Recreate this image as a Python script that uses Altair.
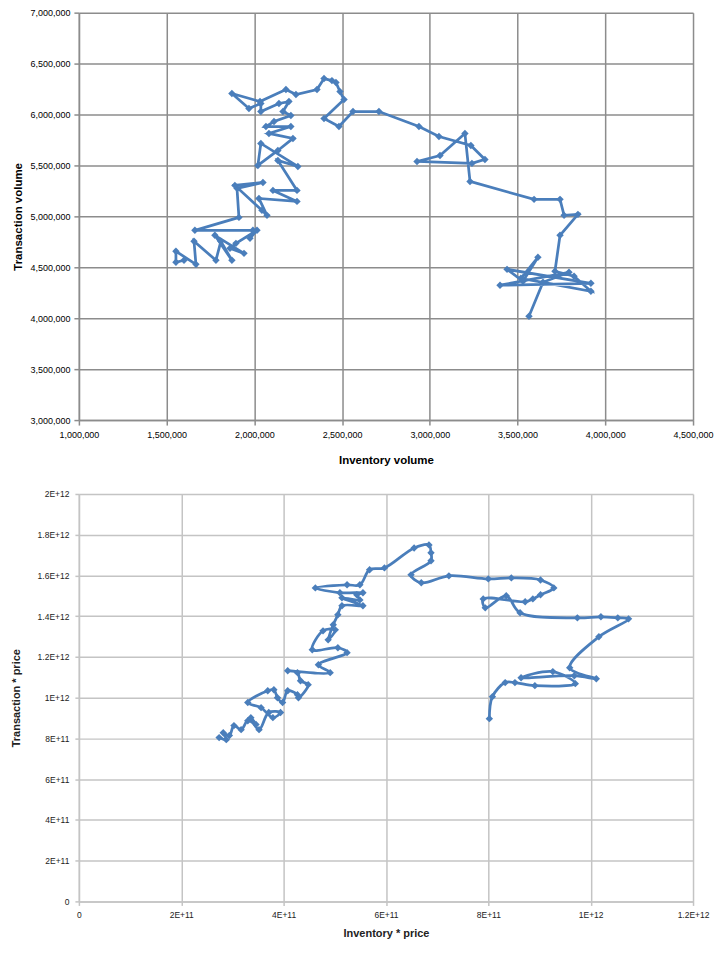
import altair as alt
import pandas as pd

BLUE = "#4a7ebb"

# ---- Top chart: Inventory volume (x) vs Transaction volume (y), in thousands ----
inv_vol_k = [1599, 1553, 1553, 1667, 1656, 1781, 1809, 1872, 1775, 1941,
             1861, 1895, 2015, 1975, 1992, 1661, 1912, 1901, 2049, 1889,
             2043, 2072, 2026, 2243, 2106, 2243, 2134, 2248, 2037, 2020,
             2134, 2220, 2083, 2208, 2066, 2112, 2208, 2163, 2197, 2140,
             2037, 2037, 1969, 1872, 2032, 2180, 2237, 2357, 2397, 2442,
             2465, 2488, 2511, 2397, 2482, 2562, 2710, 2938, 3052, 3234,
             3314, 3240, 2927, 3058, 3200, 3229, 3594, 3742, 3765, 3844,
             3742, 3713, 3822, 3918, 3519, 3616, 3531, 3440, 3918, 3400,
             3793, 3645, 3565]
trans_vol_k = [4569, 4549, 4657, 4529, 4755, 4569, 4755, 4569, 4814, 4637,
               4686, 4735, 4863, 4784, 4863, 4863, 4990, 5275, 5333, 5304,
               5059, 5010, 5176, 5147, 5255, 5255, 5549, 5490, 5716, 5500,
               5647, 5765, 5814, 5882, 5882, 5931, 5990, 6029, 6127, 6108,
               6029, 6108, 6059, 6206, 6127, 6245, 6196, 6245, 6353, 6333,
               6314, 6225, 6147, 5961, 5882, 6029, 6029, 5882, 5784, 5696,
               5559, 5520, 5539, 5598, 5814, 5343, 5167, 5167, 5010, 5020,
               4814, 4461, 4412, 4265, 4392, 4598, 4363, 4480, 4343, 4324,
               4451, 4353, 4020]

# ---- Bottom chart: Inventory * price (x) vs Transaction * price (y), in billions ----
inv_price_b = [274, 288, 282, 294, 303, 317, 330, 346, 336, 352,
               371, 394, 379, 356, 330, 369, 381, 388, 398, 408,
               427, 429, 448, 433, 427, 408, 491, 468, 524, 506,
               456, 477, 501, 487, 497, 506, 514, 555, 514, 549,
               543, 555, 510, 462, 524, 549, 568, 597, 655, 684,
               688, 688, 649, 669, 723, 800, 845, 902, 928, 902,
               887, 872, 790, 794, 835, 862, 974, 1020, 1053, 1074,
               1016, 959, 1011, 968, 864, 926, 970, 891, 852, 833,
               808, 802]
trans_price_b = [804, 794, 828, 814, 863, 843, 887, 868, 902, 843,
                 927, 927, 902, 951, 976, 1034, 1039, 1000, 976, 1034,
                 1015, 1000, 1064, 1083, 1123, 1132, 1123, 1162, 1221, 1245,
                 1235, 1328, 1333, 1284, 1358, 1407, 1451, 1451, 1490, 1480,
                 1505, 1515, 1515, 1539, 1554, 1554, 1628, 1637, 1735, 1750,
                 1711, 1672, 1603, 1564, 1598, 1583, 1588, 1578, 1539, 1505,
                 1485, 1471, 1485, 1441, 1500, 1417, 1392, 1397, 1392, 1387,
                 1299, 1147, 1093, 1108, 1098, 1128, 1069, 1059, 1074, 1074,
                 1005, 897]

# ---- Tick values / labels ----
top_x_ticks = [1000000, 1500000, 2000000, 2500000, 3000000, 3500000, 4000000, 4500000]
top_y_ticks = [3000000, 3500000, 4000000, 4500000, 5000000, 5500000, 6000000, 6500000, 7000000]
bot_x_ticks = [0, 2e11, 4e11, 6e11, 8e11, 1e12, 1.2e12]
bot_x_labels = ["0", "2E+11", "4E+11", "6E+11", "8E+11", "1E+12", "1.2E+12"]
bot_y_ticks = [0, 2e11, 4e11, 6e11, 8e11, 1e12, 1.2e12, 1.4e12, 1.6e12, 1.8e12, 2e12]
bot_y_labels = ["0", "2E+11", "4E+11", "6E+11", "8E+11", "1E+12", "1.2E+12",
                "1.4E+12", "1.6E+12", "1.8E+12", "2E+12"]


def label_expr(values, labels):
    expr = "''"
    for v, lab in reversed(list(zip(values, labels))):
        expr = f"abs(datum.value - {v!r}) < 1e6 ? '{lab}' : ({expr})"
    return expr


top_df = pd.DataFrame({
    "i": list(range(len(inv_vol_k))),
    "x": [v * 1000 for v in inv_vol_k],
    "y": [v * 1000 for v in trans_vol_k],
})
bot_df = pd.DataFrame({
    "i": list(range(len(inv_price_b))),
    "x": [v * 1e9 for v in inv_price_b],
    "y": [v * 1e9 for v in trans_price_b],
})

FONT = "Liberation Sans"
W = 615
H = 408

TOP_GRID = "#8c8c8c"
BOT_GRID = "#c4c4c4"

top = alt.Chart(top_df).mark_line(
    color=BLUE, strokeWidth=2.75,
    point=alt.OverlayMarkDef(shape="diamond", size=55, filled=True, color=BLUE, opacity=1),
).encode(
    x=alt.X("x:Q", scale=alt.Scale(domain=[1000000, 4500000], nice=False, zero=False),
            axis=alt.Axis(values=top_x_ticks, format=",.0f", title="Inventory volume",
                          grid=True, gridColor=TOP_GRID, gridWidth=1.5,
                          domainColor=TOP_GRID, domainWidth=1.5,
                          tickColor=TOP_GRID, tickWidth=1.5, tickSize=5,
                          labelFont=FONT, labelFontSize=9, labelColor="#000",
                          labelPadding=5, labelFlush=False,
                          titleFont=FONT, titleFontSize=11.5, titleFontWeight="bold",
                          titleColor="#000", titlePadding=15)),
    y=alt.Y("y:Q", scale=alt.Scale(domain=[3000000, 7000000], nice=False, zero=False),
            axis=alt.Axis(values=top_y_ticks, format=",.0f", title="Transaction volume",
                          grid=True, gridColor=TOP_GRID, gridWidth=1.5,
                          domainColor=TOP_GRID, domainWidth=1.5,
                          tickColor=TOP_GRID, tickWidth=1.5, tickSize=5,
                          labelFont=FONT, labelFontSize=9, labelColor="#000",
                          labelPadding=4, labelFlush=False,
                          titleFont=FONT, titleFontSize=11.5, titleFontWeight="bold",
                          titleColor="#000", titlePadding=6)),
    order="i:Q",
).properties(width=W, height=H)

bottom = alt.Chart(bot_df).mark_line(
    color=BLUE, strokeWidth=2.75, interpolate="catmull-rom",
    point=alt.OverlayMarkDef(shape="diamond", size=55, filled=True, color=BLUE, opacity=1),
).encode(
    x=alt.X("x:Q", scale=alt.Scale(domain=[0, 1.2e12], nice=False, zero=False),
            axis=alt.Axis(values=bot_x_ticks, labelExpr=label_expr(bot_x_ticks, bot_x_labels),
                          title="Inventory * price",
                          grid=True, gridColor=BOT_GRID, gridWidth=1.5,
                          domainColor=BOT_GRID, domainWidth=1.5,
                          tickColor=BOT_GRID, tickWidth=1.5, tickSize=4,
                          labelFont=FONT, labelFontSize=8.5, labelColor="#222",
                          labelPadding=5, labelFlush=False,
                          titleFont=FONT, titleFontSize=11, titleFontWeight="bold",
                          titleColor="#222", titlePadding=9)),
    y=alt.Y("y:Q", scale=alt.Scale(domain=[0, 2e12], nice=False, zero=False),
            axis=alt.Axis(values=bot_y_ticks, labelExpr=label_expr(bot_y_ticks, bot_y_labels),
                          title="Transaction * price",
                          grid=True, gridColor=BOT_GRID, gridWidth=1.5,
                          domainColor=BOT_GRID, domainWidth=1.5,
                          tickColor=BOT_GRID, tickWidth=1.5, tickSize=4,
                          labelFont=FONT, labelFontSize=8.5, labelColor="#222",
                          labelPadding=6, labelFlush=False,
                          titleFont=FONT, titleFontSize=11, titleFontWeight="bold",
                          titleColor="#222", titlePadding=16)),
    order="i:Q",
).properties(width=W, height=H)

chart = alt.vconcat(top, bottom, spacing=24).properties(
    padding={"left": 2, "top": 0, "right": 0, "bottom": 0}
).configure_view(strokeWidth=0)

chart.save("out.html", embed_options={"renderer": "svg", "actions": False})
